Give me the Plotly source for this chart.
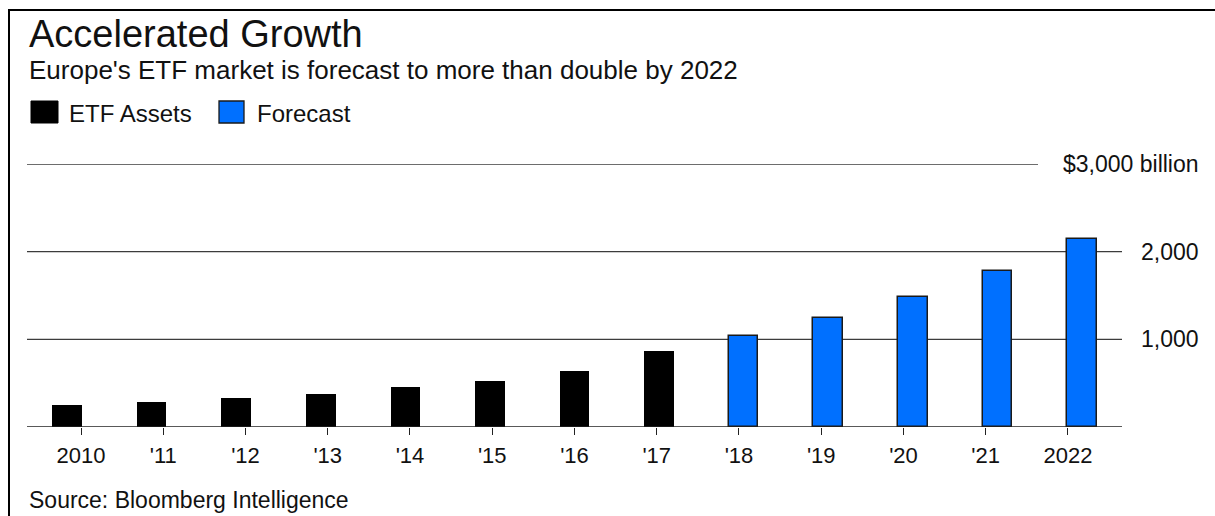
import plotly.graph_objects as go

# Europe ETF assets, $ billions (actuals through 2017, forecast from 2018)
years = ["2010", "'11", "'12", "'13", "'14", "'15", "'16", "'17",
         "'18", "'19", "'20", "'21", "2022"]
etf_assets = [250, 285, 330, 380, 455, 530, 640, 872]
forecast = [1040, 1240, 1487, 1780, 2145]
y_ticks = [1000, 2000, 3000]
y_tick_text = ["1,000", "2,000", "$3,000 billion"]

W, H = 1215, 516
ML, MR, MT, MB = 27, 93, 164, 89
PW, PH = W - ML - MR, H - MT - MB
FONT = "Liberation Sans, Arial, Helvetica, sans-serif"
BLUE = "#0070ff"
GRID = "#3c3c3c"


def px(x):
    return (x - ML) / PW


def py(y):
    return (H - MB - y) / PH


n_hist = len(etf_assets)
x_hist = list(range(n_hist))
x_fc = list(range(n_hist, n_hist + len(forecast)))
bar_w = 0.35

fig = go.Figure()
fig.add_trace(go.Bar(
    x=x_hist, y=etf_assets, width=bar_w, name="ETF Assets",
    marker=dict(color="#000000", line=dict(color="#000000", width=0)),
    showlegend=False,
))
fig.add_trace(go.Bar(
    x=x_fc, y=forecast, width=bar_w, name="Forecast",
    marker=dict(color=BLUE, line=dict(color="#1a1a1a", width=1.5)),
    showlegend=False,
))

shapes = []
# horizontal rules at each value level (drawn below the bars)
for v in y_ticks:
    x1 = px(1038) if v == y_ticks[-1] else 1
    shapes.append(dict(type="line", xref="paper", yref="y", x0=0, x1=x1,
                       y0=v, y1=v, line=dict(color=GRID, width=1.3),
                       layer="below"))
# zero line
shapes.append(dict(type="line", xref="paper", yref="y", x0=0, x1=1,
                   y0=0, y1=0, line=dict(color="#222222", width=1.5),
                   layer="above"))
# outer frame (left and top edges)
shapes.append(dict(type="line", xref="paper", yref="paper",
                   x0=px(9), x1=px(9), y0=py(9), y1=py(H + 5),
                   line=dict(color="#000000", width=2)))
shapes.append(dict(type="line", xref="paper", yref="paper",
                   x0=px(8), x1=px(W + 5), y0=py(10), y1=py(10),
                   line=dict(color="#000000", width=2)))
# legend swatches
shapes.append(dict(type="rect", xref="paper", yref="paper",
                   x0=px(31), x1=px(58), y0=py(101), y1=py(123),
                   fillcolor="#000000", line=dict(color="#000000", width=1)))
shapes.append(dict(type="rect", xref="paper", yref="paper",
                   x0=px(219), x1=px(244), y0=py(101), y1=py(123),
                   fillcolor=BLUE, line=dict(color="#1a1a1a", width=1.3)))

annotations = []


def text(x, y, s, size, anchor="left", color="#111111"):
    annotations.append(dict(
        xref="paper", yref="paper", x=px(x), y=py(y), text=s,
        showarrow=False, xanchor=anchor, yanchor="middle",
        font=dict(family=FONT, size=size, color=color)))


text(27, 34, "Accelerated Growth", 38)
text(27, 70, "Europe's ETF market is forecast to more than double by 2022", 26)
text(67, 114, "ETF Assets", 24)
text(255, 114, "Forecast", 24)
text(27, 500, "Source: Bloomberg Intelligence", 23)
for v, lab in zip(y_ticks, y_tick_text):
    annotations.append(dict(
        xref="paper", yref="y", x=px(1201), y=v, text=lab,
        showarrow=False, xanchor="right", yanchor="middle",
        font=dict(family=FONT, size=23, color="#111111")))

# category tick positions along the bar axis
tick_vals = [0.1655 + 0.97245 * i for i in range(len(years))]

fig.update_layout(
    width=W, height=H,
    margin=dict(l=ML, r=MR, t=MT, b=MB, pad=0),
    paper_bgcolor="#ffffff", plot_bgcolor="#ffffff",
    bargap=0, barmode="overlay",
    shapes=shapes, annotations=annotations,
    xaxis=dict(range=[-0.473, 12.474], showgrid=False, zeroline=False,
               showline=False, tickmode="array", tickvals=tick_vals,
               ticktext=years, ticks="outside", ticklen=7, tickwidth=1.3,
               tickcolor="#222222", ticklabelstandoff=2,
               tickfont=dict(family=FONT, size=22, color="#111111"),
               fixedrange=True),
    yaxis=dict(range=[0, 3000], showgrid=False, zeroline=False,
               showline=False, showticklabels=False, ticks="",
               fixedrange=True),
    font=dict(family=FONT),
)

fig.write_html("out.html", config={"displayModeBar": False})
